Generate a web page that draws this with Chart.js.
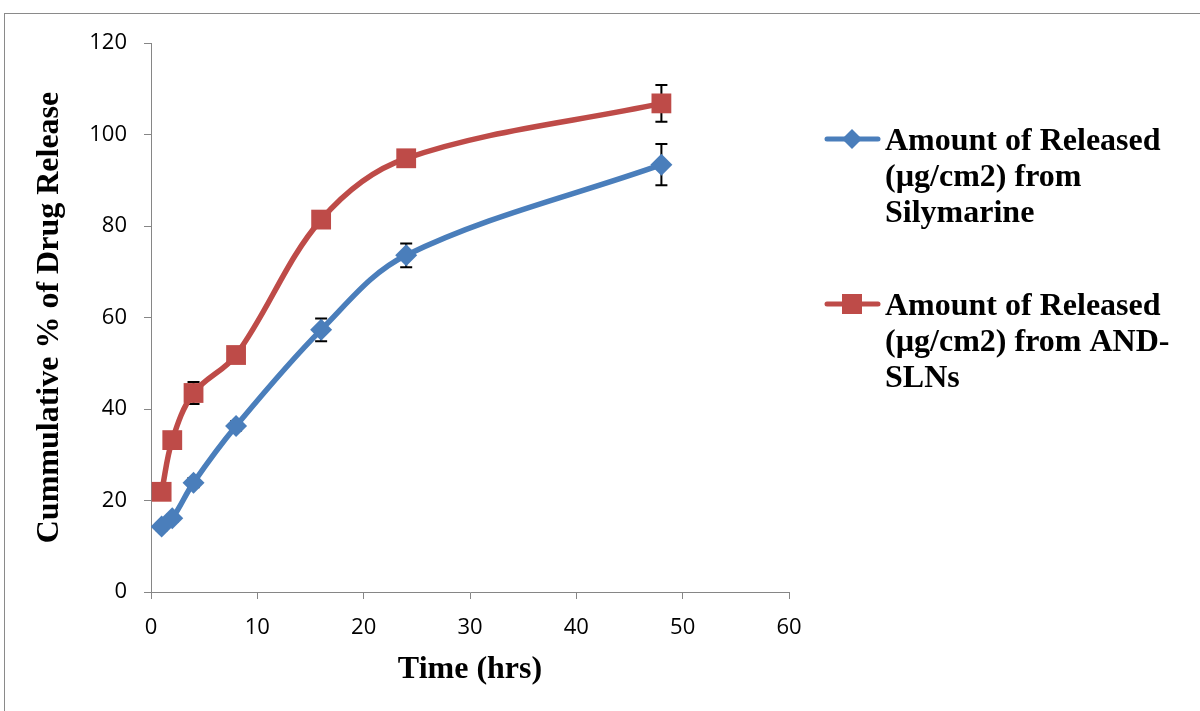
<!DOCTYPE html>
<html>
<head>
<meta charset="utf-8">
<title>Cumulative drug release</title>
<style>
  html, body { margin: 0; padding: 0; background: #fff; }
  #wrap { position: relative; width: 1200px; height: 711px; overflow: hidden; }
  #frame { position: absolute; left: 4px; top: 13px; width: 1300px; height: 800px;
           border-left: 1px solid #8a8a8a; border-top: 1px solid #8a8a8a; }
  canvas { position: absolute; left: 0; top: 0; }
</style>
</head>
<body>
<div id="wrap">
  <div id="frame"></div>
  <canvas id="myChart" width="1200" height="711"></canvas>
</div>

<script src="https://cdn.jsdelivr.net/npm/chart.js"></script>

<script>
  // values
  const hours = [1, 2, 4, 8, 16, 24, 48];
  const silymarine = [14.3, 16.1, 23.9, 36.3, 57.3, 73.6, 93.4];
  const silymarineErr = [0.8, 0.8, 1, 1, 2.5, 2.6, 4.5];
  const andSlns = [21.9, 33.2, 43.5, 51.8, 81.4, 94.8, 106.8];
  const andSlnsErr = [1, 1, 2.4, 1, 1.2, 1, 4];
  const seriesNames = [
    ['Amount of Released', '(\u00b5g/cm2) from', 'Silymarine'],
    ['Amount of Released', '(\u00b5g/cm2) from AND-', 'SLNs']
  ];
  const xTicks = [0, 10, 20, 30, 40, 50, 60];
  const yTicks = [0, 20, 40, 60, 80, 100, 120];

  const axisGrey = '#868686';
  const blue = '#4A7EBB';
  const red = '#BE4B48';

  // black error bars, drawn under the markers
  const errorBars = {
    id: 'errorBars',
    beforeDatasetsDraw(chart) {
      const {ctx, scales: {x, y}} = chart;
      ctx.save();
      ctx.strokeStyle = '#000';
      ctx.lineWidth = 2;
      chart.data.datasets.forEach(ds => {
        ds.data.forEach((p, i) => {
          const px = x.getPixelForValue(p.x);
          const top = y.getPixelForValue(p.y + ds.errors[i]);
          const bot = y.getPixelForValue(p.y - ds.errors[i]);
          ctx.beginPath();
          ctx.moveTo(px, top); ctx.lineTo(px, bot);
          ctx.moveTo(px - 6, top); ctx.lineTo(px + 6, top);
          ctx.moveTo(px - 6, bot); ctx.lineTo(px + 6, bot);
          ctx.stroke();
        });
      });
      ctx.restore();
    }
  };

  // legend on the right with wrapped labels
  const sideLegend = {
    id: 'sideLegend',
    afterDraw(chart) {
      const ctx = chart.ctx;
      const baselines = [150, 315];
      chart.data.datasets.forEach((ds, k) => {
        const base = baselines[k];
        const my = base - 11;
        ctx.save();
        ctx.strokeStyle = ds.borderColor;
        ctx.lineWidth = 5;
        ctx.lineCap = 'round';
        ctx.beginPath();
        ctx.moveTo(827, my);
        ctx.lineTo(878, my);
        ctx.stroke();
        ctx.fillStyle = ds.backgroundColor;
        ctx.beginPath();
        if (ds.pointStyle === 'rectRot') {
          ctx.moveTo(852, my - 10);
          ctx.lineTo(862, my);
          ctx.lineTo(852, my + 10);
          ctx.lineTo(842, my);
          ctx.closePath();
        } else {
          ctx.rect(842, my - 10, 20, 20);
        }
        ctx.fill();
        ctx.fillStyle = '#000';
        ctx.font = 'bold 32px "Liberation Serif"';
        ctx.textBaseline = 'alphabetic';
        ctx.textAlign = 'left';
        seriesNames[k].forEach((line, j) => ctx.fillText(line, 885, base + j * 36));
        ctx.restore();
      });
    }
  };

  const ctx = document.getElementById('myChart');

  new Chart(ctx, {
    type: 'line',
    data: {
      datasets: [
        {
          label: seriesNames[0].join(' '),
          data: hours.map((h, i) => ({x: h, y: silymarine[i]})),
          errors: silymarineErr,
          borderColor: blue,
          backgroundColor: blue,
          borderWidth: 5.5,
          pointStyle: 'rectRot',
          pointRadius: 11,
          pointBorderWidth: 0,
          pointBackgroundColor: blue,
          tension: 0.35,
          fill: false
        },
        {
          label: seriesNames[1].join(' '),
          data: hours.map((h, i) => ({x: h, y: andSlns[i]})),
          errors: andSlnsErr,
          borderColor: red,
          backgroundColor: red,
          borderWidth: 5.5,
          pointStyle: 'rect',
          pointRadius: 14,
          pointBorderWidth: 0,
          pointBackgroundColor: red,
          tension: 0.35,
          fill: false
        }
      ]
    },
    options: {
      responsive: false,
      animation: false,
      layout: {padding: {left: 0, right: 411, top: 43, bottom: 0}},
      plugins: {
        legend: {display: false},
        tooltip: {enabled: false}
      },
      scales: {
        x: {
          type: 'linear',
          min: 0,
          max: 60,
          afterBuildTicks: s => { s.ticks = xTicks.map(v => ({value: v})); },
          afterFit: s => { s.height = 119; },
          grid: {drawOnChartArea: false, drawTicks: true, tickLength: 7, color: axisGrey},
          border: {color: axisGrey, width: 1},
          ticks: {color: '#000', font: {family: 'Open Sans', size: 22}, padding: 16, maxRotation: 0},
          title: {
            display: true,
            text: 'Time (hrs)',
            color: '#000',
            font: {family: 'Liberation Serif', size: 32, weight: 'bold'},
            padding: {top: 0, bottom: 22}
          }
        },
        y: {
          min: 0,
          max: 120,
          afterBuildTicks: s => { s.ticks = yTicks.map(v => ({value: v})); },
          afterFit: s => { s.width = 151; },
          grid: {drawOnChartArea: false, drawTicks: true, tickLength: 7, color: axisGrey},
          border: {color: axisGrey, width: 1},
          ticks: {color: '#000', font: {family: 'Open Sans', size: 22}, padding: 17},
          title: {
            display: true,
            text: 'Cummulative % of Drug Release',
            color: '#000',
            font: {family: 'Liberation Serif', size: 32, weight: 'bold'},
            padding: {top: 31, bottom: 0}
          }
        }
      }
    },
    plugins: [errorBars, sideLegend]
  });
</script>
</body>
</html>
